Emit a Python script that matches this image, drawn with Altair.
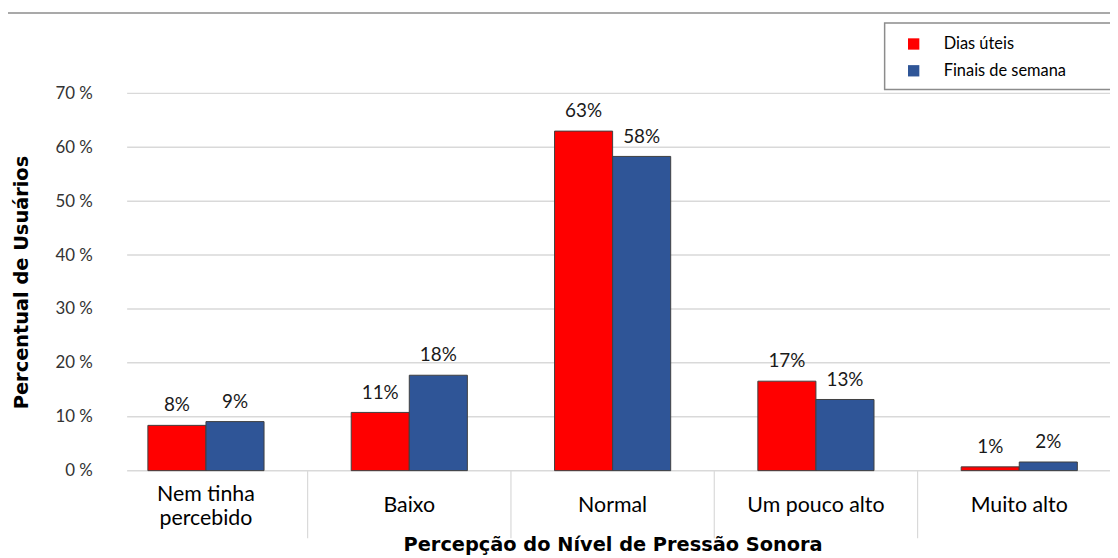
import altair as alt
import pandas as pd

categories = ["Nem tinha percebido", "Baixo", "Normal", "Um pouco alto", "Muito alto"]
series = ["Dias úteis", "Finais de semana"]
dias_uteis = [8.4, 10.8, 63.0, 16.6, 0.7]
finais_semana = [9.1, 17.7, 58.3, 13.2, 1.6]
y_ticks = [0, 10, 20, 30, 40, 50, 60, 70]

rows = []
for c, a, b in zip(categories, dias_uteis, finais_semana):
    rows.append({"cat": c, "serie": series[0], "valor": a})
    rows.append({"cat": c, "serie": series[1], "valor": b})
df = pd.DataFrame(rows)
df_cat = pd.DataFrame({"cat": categories})
df_grid = pd.DataFrame({"valor": y_ticks})

FONT = "Lato"
TFONT = "DejaVu Sans"
W, H = 990, 380
PI = 0.4287
STEP = 1024 / 5

x_scale = alt.Scale(domain=categories, range=[-23, 1001], paddingInner=PI, paddingOuter=PI / 2)
y_scale = alt.Scale(domain=[0, 70], nice=False)
off_scale = alt.Scale(domain=series, paddingInner=0, paddingOuter=0)
color_scale = alt.Scale(domain=series, range=["#FF0000", "#2F5597"])

x_axis = alt.Axis(
    title="Percepção do Nível de Pressão Sonora",
    titleFont=TFONT, titleFontWeight="bold", titleFontSize=19.5, titleColor="#000000",
    titleBaseline="alphabetic", titleY=80,
    labels=False, ticks=False, domain=False, grid=False,
)

y_axis = alt.Axis(
    title="Percentual de Usuários",
    titleFont=TFONT, titleFontWeight="bold", titleFontSize=19.5, titleColor="#000000",
    titleAngle=270, titleX=-106, titleY=190, titleAlign="center", titleBaseline="middle",
    values=y_ticks, labelExpr="datum.value + ' %'",
    labelFont=FONT, labelFontSize=17, labelColor="#333333", labelPadding=35,
    grid=False, domain=False, ticks=False,
)

X = alt.X("cat:N", scale=x_scale, axis=x_axis, sort=categories)
Y = alt.Y("valor:Q", scale=y_scale, axis=y_axis)

grid = alt.Chart(df_grid).mark_rule(color="#d9d9d9", strokeWidth=1.5).encode(
    y=Y, x=alt.value(0), x2=alt.value(W),
)

separators = alt.Chart(df_cat).transform_filter(
    "datum.cat != 'Nem tinha percebido'"
).mark_rule(color="#d9d9d9", strokeWidth=1.2, xOffset=-STEP * PI / 2).encode(
    x=alt.X("cat:N", scale=x_scale, axis=x_axis, sort=categories, bandPosition=0),
    y=alt.value(380), y2=alt.value(448),
)

bars = alt.Chart(df).mark_bar(stroke="#404040", strokeWidth=1).encode(
    x=X,
    xOffset=alt.XOffset("serie:N", scale=off_scale, sort=series),
    y=Y,
    color=alt.Color("serie:N", scale=color_scale, legend=alt.Legend(
        title=None, orient="none", legendX=784, legendY=-58,
        symbolType="square", symbolSize=130, symbolStrokeWidth=0,
        labelFont=FONT, labelFontSize=16.5, labelColor="#000000",
        labelOffset=22, rowPadding=10, padding=0,
    )),
)

labels = alt.Chart(df).mark_text(font=FONT, fontSize=19, color="#1a1a1a", baseline="middle", dy=-20).encode(
    x=X,
    xOffset=alt.XOffset("serie:N", scale=off_scale, sort=series),
    y=Y,
    text="txt:N",
).transform_calculate(txt="format(datum.valor, '.0f') + '%'")

cat_single = alt.Chart(df_cat).transform_filter(
    "datum.cat != 'Nem tinha percebido'"
).mark_text(font=FONT, fontSize=21.5, color="#000000", baseline="middle").encode(
    x=X,
    y=alt.value(416),
    text="cat:N",
)

cat_double = alt.Chart(df_cat).transform_filter(
    "datum.cat == 'Nem tinha percebido'"
).transform_calculate(
    txt="replace(datum.cat, 'tinha ', 'tinha|')"
).mark_text(font=FONT, fontSize=21.5, color="#000000", baseline="middle", lineBreak="|", lineHeight=24).encode(
    x=X,
    y=alt.value(405),
    text="txt:N",
)

one = pd.DataFrame({"k": [0]})
legend_box = alt.Chart(one).mark_rect(fill="white", stroke="#8c8c8c", strokeWidth=1.5).encode(
    x=alt.value(763), x2=alt.value(1000), y=alt.value(-71), y2=alt.value(-4)
)
top_line = alt.Chart(one).mark_rule(color="#8c8c8c", strokeWidth=1.5).encode(
    x=alt.value(-120), x2=alt.value(1000), y=alt.value(-81)
)

chart = alt.layer(
    top_line, legend_box, grid, separators, bars, labels, cat_single, cat_double
).properties(
    width=W, height=H,
    background="white",
    autosize=alt.AutoSizeParams(type="none"),
    padding={"left": 120, "top": 84, "right": 0, "bottom": 86},
).configure_view(stroke="transparent", strokeWidth=0)

chart.save("out.html", embed_options={"renderer": "svg", "actions": False})
